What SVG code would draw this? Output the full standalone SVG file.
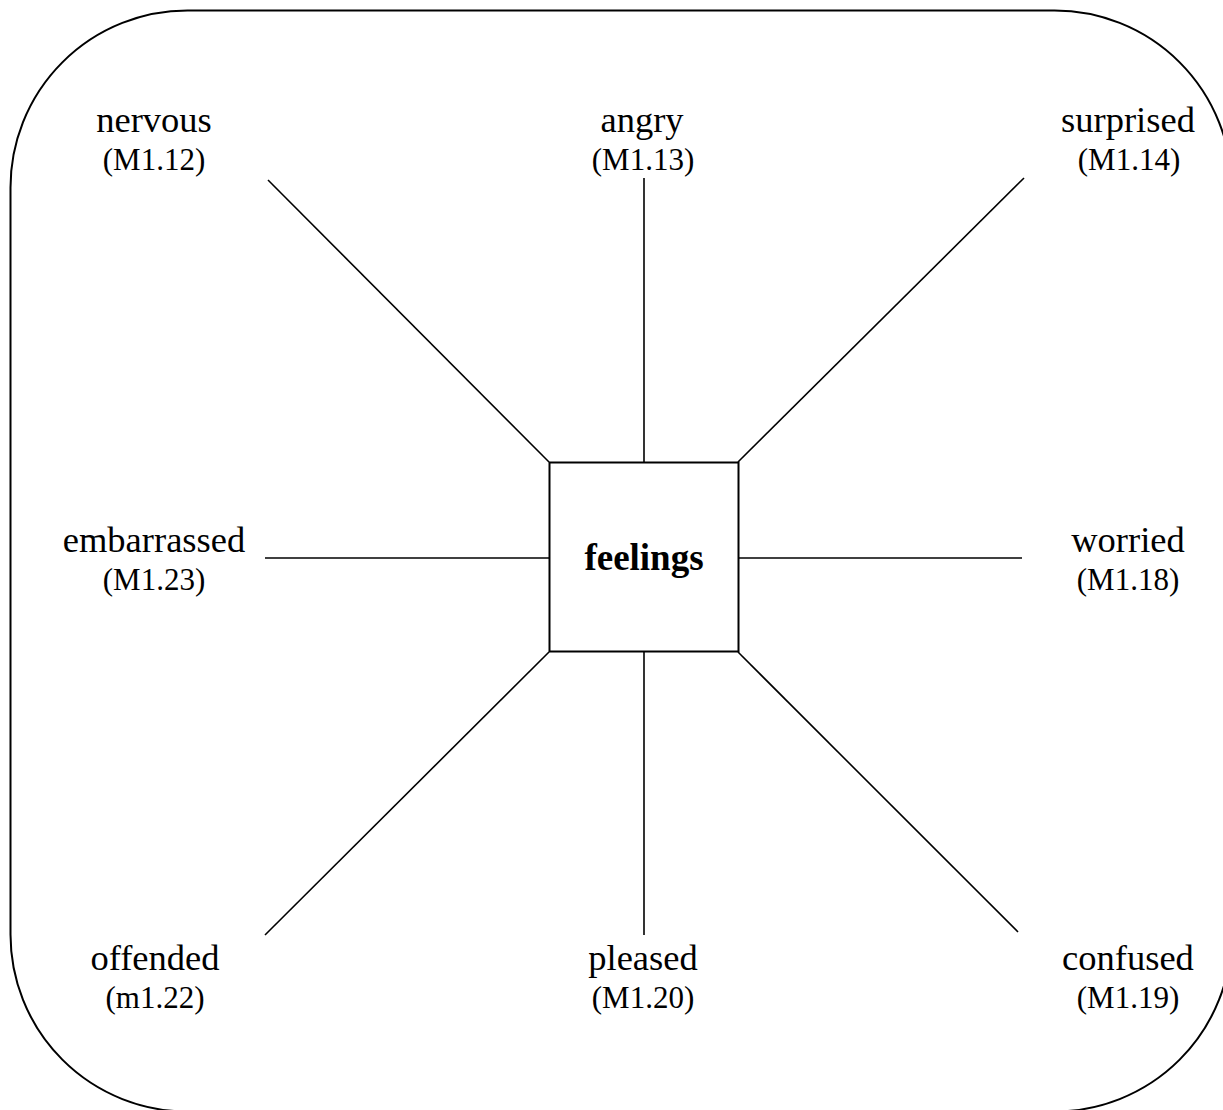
<svg xmlns="http://www.w3.org/2000/svg" width="1223" height="1110" viewBox="0 0 1223 1110">
<style>
.t{font-family:"Liberation Serif","Times New Roman",serif;font-size:31px;fill:#000;text-anchor:middle}
.w{font-size:36.5px}
.b{font-weight:bold;font-size:37px}
.c{stroke:#000;stroke-width:1.6;fill:none}
</style>
<rect x="0" y="0" width="1223" height="1110" fill="#fff"/>
<g id="frame"><rect x="10.5" y="10.5" width="1221" height="1101" rx="177" ry="177" fill="none" stroke="#000" stroke-width="2"/></g>
<g id="connectors">
<line class="c" x1="268" y1="180" x2="549" y2="462"/>
<line class="c" x1="644" y1="178" x2="644" y2="462"/>
<line class="c" x1="1024" y1="178" x2="738" y2="462"/>
<line class="c" x1="265" y1="558" x2="549" y2="558"/>
<line class="c" x1="738" y1="558" x2="1022" y2="558"/>
<line class="c" x1="549" y1="652" x2="265" y2="935"/>
<line class="c" x1="644" y1="652" x2="644" y2="935"/>
<line class="c" x1="738" y1="652" x2="1018" y2="932"/>
</g>
<g id="feelings"><rect x="549.5" y="462.5" width="189" height="189" fill="#fff" stroke="#000" stroke-width="2"/><text class="t b" x="644" y="570">feelings</text></g>
<g id="nervous"><text class="t w" x="154" y="132">nervous</text><text class="t" x="154" y="170">(M1.12)</text></g>
<g id="angry"><text class="t w" x="642" y="132">angry</text><text class="t" x="643" y="170">(M1.13)</text></g>
<g id="surprised"><text class="t w" x="1128" y="132">surprised</text><text class="t" x="1129" y="170">(M1.14)</text></g>
<g id="embarrassed"><text class="t w" x="154" y="552">embarrassed</text><text class="t" x="154" y="590">(M1.23)</text></g>
<g id="worried"><text class="t w" x="1128" y="552">worried</text><text class="t" x="1128" y="590">(M1.18)</text></g>
<g id="offended"><text class="t w" x="155" y="970">offended</text><text class="t" x="155" y="1008">(m1.22)</text></g>
<g id="pleased"><text class="t w" x="643" y="970">pleased</text><text class="t" x="643" y="1008">(M1.20)</text></g>
<g id="confused"><text class="t w" x="1128" y="970">confused</text><text class="t" x="1128" y="1008">(M1.19)</text></g>
</svg>
